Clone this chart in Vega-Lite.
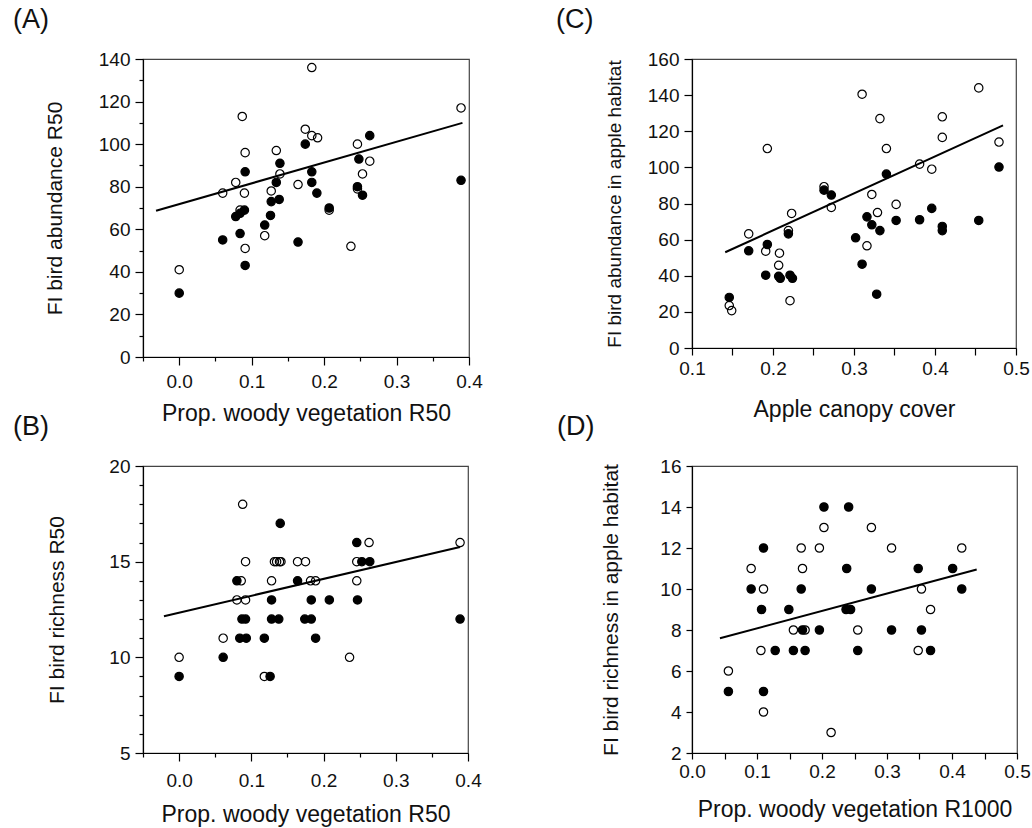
{
  "$schema": "https://vega.github.io/schema/vega-lite/v6.json",
  "background": "white",
  "padding": {"left": 12, "top": 5, "right": 0, "bottom": 0},
  "config": {
    "font": "Liberation Sans",
    "view": {"stroke": "#444444", "strokeWidth": 1.2},
    "axis": {
      "grid": false,
      "domainColor": "#000000",
      "domainWidth": 1.2,
      "tickColor": "#000000",
      "tickWidth": 1.2,
      "labelFont": "Liberation Sans",
      "titleFont": "Liberation Sans",
      "labelFontSize": 19,
      "titleFontSize": 21,
      "labelColor": "#111111",
      "titleColor": "#111111",
      "titleFontWeight": "normal",
      "labelOverlap": false,
      "labelFlush": false
    },
    "axisX": {"titleFontSize": 23},
    "title": {"font": "Liberation Sans", "fontSize": 27, "fontWeight": "normal", "color": "#111111", "anchor": "start", "frame": "group", "baseline": "bottom", "offset": 16}
  },
  "datasets": {
    "A": [
      {"x": 0, "y": 41, "type": "open"}, {"x": 0.183, "y": 136, "type": "open"}, {"x": 0.389, "y": 117, "type": "open"}, {"x": 0.087, "y": 113, "type": "open"},
      {"x": 0.174, "y": 107, "type": "open"}, {"x": 0.183, "y": 104, "type": "open"}, {"x": 0.191, "y": 103, "type": "open"}, {"x": 0.246, "y": 100, "type": "open"},
      {"x": 0.091, "y": 96, "type": "open"}, {"x": 0.134, "y": 97, "type": "open"}, {"x": 0.263, "y": 92, "type": "open"}, {"x": 0.253, "y": 86, "type": "open"},
      {"x": 0.139, "y": 86, "type": "open"}, {"x": 0.078, "y": 82, "type": "open"}, {"x": 0.06, "y": 77, "type": "open"}, {"x": 0.09, "y": 77, "type": "open"},
      {"x": 0.127, "y": 78, "type": "open"}, {"x": 0.164, "y": 81, "type": "open"}, {"x": 0.084, "y": 69, "type": "open"}, {"x": 0.207, "y": 69, "type": "open"},
      {"x": 0.246, "y": 79, "type": "open"}, {"x": 0.118, "y": 57, "type": "open"}, {"x": 0.091, "y": 51, "type": "open"}, {"x": 0.237, "y": 52, "type": "open"},
      {"x": 0, "y": 30, "type": "filled"}, {"x": 0.174, "y": 100, "type": "filled"}, {"x": 0.263, "y": 104, "type": "filled"}, {"x": 0.248, "y": 93, "type": "filled"},
      {"x": 0.091, "y": 87, "type": "filled"}, {"x": 0.139, "y": 91, "type": "filled"}, {"x": 0.183, "y": 87, "type": "filled"}, {"x": 0.134, "y": 82, "type": "filled"},
      {"x": 0.183, "y": 82, "type": "filled"}, {"x": 0.19, "y": 77, "type": "filled"}, {"x": 0.246, "y": 80, "type": "filled"}, {"x": 0.253, "y": 76, "type": "filled"},
      {"x": 0.389, "y": 83, "type": "filled"}, {"x": 0.127, "y": 73, "type": "filled"}, {"x": 0.138, "y": 74, "type": "filled"}, {"x": 0.09, "y": 69, "type": "filled"},
      {"x": 0.078, "y": 66, "type": "filled"}, {"x": 0.084, "y": 67.5, "type": "filled"}, {"x": 0.126, "y": 66.5, "type": "filled"}, {"x": 0.118, "y": 62, "type": "filled"},
      {"x": 0.207, "y": 70, "type": "filled"}, {"x": 0.06, "y": 55, "type": "filled"}, {"x": 0.084, "y": 58, "type": "filled"}, {"x": 0.164, "y": 54, "type": "filled"},
      {"x": 0.091, "y": 43, "type": "filled"}
    ],
    "A_line": [{"x": -0.032, "y": 68.7}, {"x": 0.391, "y": 110}],
    "B": [
      {"x": 0.088, "y": 18, "type": "open"}, {"x": 0.263, "y": 16, "type": "open"}, {"x": 0.389, "y": 16, "type": "open"}, {"x": 0.092, "y": 15, "type": "open"},
      {"x": 0.132, "y": 15, "type": "open"}, {"x": 0.135, "y": 15, "type": "open"}, {"x": 0.139, "y": 15, "type": "open"}, {"x": 0.141, "y": 15, "type": "open"},
      {"x": 0.164, "y": 15, "type": "open"}, {"x": 0.175, "y": 15, "type": "open"}, {"x": 0.246, "y": 15, "type": "open"}, {"x": 0.086, "y": 14, "type": "open"},
      {"x": 0.128, "y": 14, "type": "open"}, {"x": 0.182, "y": 14, "type": "open"}, {"x": 0.189, "y": 14, "type": "open"}, {"x": 0.246, "y": 14, "type": "open"},
      {"x": 0.08, "y": 13, "type": "open"}, {"x": 0.092, "y": 13, "type": "open"}, {"x": 0.061, "y": 11, "type": "open"}, {"x": 0, "y": 10, "type": "open"},
      {"x": 0.236, "y": 10, "type": "open"}, {"x": 0.118, "y": 9, "type": "open"},
      {"x": 0.14, "y": 17, "type": "filled"}, {"x": 0.246, "y": 16, "type": "filled"}, {"x": 0.253, "y": 15, "type": "filled"}, {"x": 0.264, "y": 15, "type": "filled"},
      {"x": 0.08, "y": 14, "type": "filled"}, {"x": 0.164, "y": 14, "type": "filled"}, {"x": 0.128, "y": 13, "type": "filled"}, {"x": 0.183, "y": 13, "type": "filled"},
      {"x": 0.208, "y": 13, "type": "filled"}, {"x": 0.247, "y": 13, "type": "filled"}, {"x": 0.087, "y": 12, "type": "filled"}, {"x": 0.092, "y": 12, "type": "filled"},
      {"x": 0.128, "y": 12, "type": "filled"}, {"x": 0.138, "y": 12, "type": "filled"}, {"x": 0.174, "y": 12, "type": "filled"}, {"x": 0.183, "y": 12, "type": "filled"},
      {"x": 0.389, "y": 12, "type": "filled"}, {"x": 0.084, "y": 11, "type": "filled"}, {"x": 0.093, "y": 11, "type": "filled"}, {"x": 0.118, "y": 11, "type": "filled"},
      {"x": 0.189, "y": 11, "type": "filled"}, {"x": 0.061, "y": 10, "type": "filled"}, {"x": 0, "y": 9, "type": "filled"}, {"x": 0.126, "y": 9, "type": "filled"}
    ],
    "B_line": [{"x": -0.021, "y": 12.15}, {"x": 0.389, "y": 15.77}],
    "C": [
      {"x": 0.31, "y": 140.5, "type": "open"}, {"x": 0.454, "y": 144, "type": "open"}, {"x": 0.332, "y": 127, "type": "open"}, {"x": 0.409, "y": 128, "type": "open"},
      {"x": 0.409, "y": 116.6, "type": "open"}, {"x": 0.193, "y": 110.4, "type": "open"}, {"x": 0.34, "y": 110.4, "type": "open"}, {"x": 0.479, "y": 114, "type": "open"},
      {"x": 0.381, "y": 101.8, "type": "open"}, {"x": 0.396, "y": 99, "type": "open"}, {"x": 0.263, "y": 89.3, "type": "open"}, {"x": 0.322, "y": 85, "type": "open"},
      {"x": 0.272, "y": 77.8, "type": "open"}, {"x": 0.352, "y": 79.5, "type": "open"}, {"x": 0.329, "y": 75, "type": "open"}, {"x": 0.223, "y": 74.5, "type": "open"},
      {"x": 0.17, "y": 63.2, "type": "open"}, {"x": 0.219, "y": 65, "type": "open"}, {"x": 0.191, "y": 53.6, "type": "open"}, {"x": 0.208, "y": 52.5, "type": "open"},
      {"x": 0.316, "y": 56.6, "type": "open"}, {"x": 0.207, "y": 45.8, "type": "open"}, {"x": 0.221, "y": 26.2, "type": "open"}, {"x": 0.146, "y": 23.5, "type": "open"},
      {"x": 0.149, "y": 20.7, "type": "open"},
      {"x": 0.479, "y": 100.2, "type": "filled"}, {"x": 0.34, "y": 96.3, "type": "filled"}, {"x": 0.263, "y": 87.4, "type": "filled"}, {"x": 0.272, "y": 84.7, "type": "filled"},
      {"x": 0.396, "y": 77.3, "type": "filled"}, {"x": 0.316, "y": 72.6, "type": "filled"}, {"x": 0.352, "y": 70.6, "type": "filled"}, {"x": 0.381, "y": 71, "type": "filled"},
      {"x": 0.454, "y": 70.6, "type": "filled"}, {"x": 0.322, "y": 68.2, "type": "filled"}, {"x": 0.409, "y": 67.3, "type": "filled"}, {"x": 0.409, "y": 65, "type": "filled"},
      {"x": 0.332, "y": 65, "type": "filled"}, {"x": 0.219, "y": 63.2, "type": "filled"}, {"x": 0.17, "y": 53.8, "type": "filled"}, {"x": 0.193, "y": 57.3, "type": "filled"},
      {"x": 0.302, "y": 61, "type": "filled"}, {"x": 0.191, "y": 40.3, "type": "filled"}, {"x": 0.207, "y": 39.7, "type": "filled"}, {"x": 0.209, "y": 38.6, "type": "filled"},
      {"x": 0.221, "y": 40.3, "type": "filled"}, {"x": 0.224, "y": 38.6, "type": "filled"}, {"x": 0.31, "y": 46.4, "type": "filled"}, {"x": 0.328, "y": 29.8, "type": "filled"},
      {"x": 0.146, "y": 28, "type": "filled"}
    ],
    "C_line": [{"x": 0.141, "y": 53}, {"x": 0.484, "y": 123.3}],
    "D": [
      {"x": 0.203, "y": 13, "type": "open"}, {"x": 0.276, "y": 13, "type": "open"}, {"x": 0.168, "y": 12, "type": "open"}, {"x": 0.196, "y": 12, "type": "open"},
      {"x": 0.307, "y": 12, "type": "open"}, {"x": 0.415, "y": 12, "type": "open"}, {"x": 0.091, "y": 11, "type": "open"}, {"x": 0.17, "y": 11, "type": "open"},
      {"x": 0.11, "y": 10, "type": "open"}, {"x": 0.353, "y": 10, "type": "open"}, {"x": 0.367, "y": 9, "type": "open"}, {"x": 0.156, "y": 8, "type": "open"},
      {"x": 0.174, "y": 8, "type": "open"}, {"x": 0.255, "y": 8, "type": "open"}, {"x": 0.106, "y": 7, "type": "open"}, {"x": 0.348, "y": 7, "type": "open"},
      {"x": 0.056, "y": 6, "type": "open"}, {"x": 0.11, "y": 4, "type": "open"}, {"x": 0.214, "y": 3, "type": "open"},
      {"x": 0.203, "y": 14, "type": "filled"}, {"x": 0.241, "y": 14, "type": "filled"}, {"x": 0.11, "y": 12, "type": "filled"}, {"x": 0.238, "y": 11, "type": "filled"},
      {"x": 0.348, "y": 11, "type": "filled"}, {"x": 0.401, "y": 11, "type": "filled"}, {"x": 0.091, "y": 10, "type": "filled"}, {"x": 0.168, "y": 10, "type": "filled"},
      {"x": 0.276, "y": 10, "type": "filled"}, {"x": 0.415, "y": 10, "type": "filled"}, {"x": 0.107, "y": 9, "type": "filled"}, {"x": 0.149, "y": 9, "type": "filled"},
      {"x": 0.237, "y": 9, "type": "filled"}, {"x": 0.244, "y": 9, "type": "filled"}, {"x": 0.17, "y": 8, "type": "filled"}, {"x": 0.196, "y": 8, "type": "filled"},
      {"x": 0.307, "y": 8, "type": "filled"}, {"x": 0.353, "y": 8, "type": "filled"}, {"x": 0.128, "y": 7, "type": "filled"}, {"x": 0.156, "y": 7, "type": "filled"},
      {"x": 0.174, "y": 7, "type": "filled"}, {"x": 0.255, "y": 7, "type": "filled"}, {"x": 0.367, "y": 7, "type": "filled"}, {"x": 0.056, "y": 5, "type": "filled"},
      {"x": 0.11, "y": 5, "type": "filled"}
    ],
    "D_line": [{"x": 0.043, "y": 7.6}, {"x": 0.438, "y": 10.95}]
  },
  "columns": 2,
  "bounds": "flush",
  "spacing": {"row": 109, "column": 223},
  "concat": [
    {
      "title": {"text": "(A)", "dx": -130},
      "width": 326, "height": 298,
      "encoding": {
        "x": {"field": "x", "type": "quantitative", "scale": {"domain": [-0.05, 0.4], "nice": false, "zero": false},
          "axis": {"title": "Prop. woody vegetation R50", "values": [-0.05, 0, 0.05, 0.1, 0.15, 0.2, 0.25, 0.3, 0.35, 0.4],
            "labelExpr": "abs(round(datum.value*20))%2==1 ? '' : format(datum.value,'.1f')",
            "tickSize": {"condition": {"test": "abs(round(datum.value*20))%2==1", "value": 4}, "value": 8},
            "labelPadding": 7, "titlePadding": 11}},
        "y": {"field": "y", "type": "quantitative", "scale": {"domain": [0, 140], "nice": false},
          "axis": {"title": "FI bird abundance R50", "values": [0, 10, 20, 30, 40, 50, 60, 70, 80, 90, 100, 110, 120, 130, 140],
            "labelExpr": "datum.value%20==0 ? format(datum.value,'d') : ''",
            "tickSize": {"condition": {"test": "datum.value%20!=0", "value": 4}, "value": 8},
            "labelPadding": 5, "titlePadding": 33}}
      },
      "layer": [
        {"data": {"name": "A"}, "mark": {"type": "point", "shape": "circle", "filled": true, "size": 70, "stroke": "#000000", "strokeWidth": 1.2, "opacity": 1},
          "encoding": {"fill": {"field": "type", "type": "nominal", "scale": {"domain": ["filled", "open"], "range": ["#000000", "transparent"]}, "legend": null}}},
        {"data": {"name": "A_line"}, "mark": {"type": "line", "color": "#000000", "strokeWidth": 2}, "encoding": {}}
      ]
    },
    {
      "title": {"text": "(C)", "dx": -136},
      "width": 324, "height": 289,
      "encoding": {
        "x": {"field": "x", "type": "quantitative", "scale": {"domain": [0.1, 0.5], "nice": false, "zero": false},
          "axis": {"title": "Apple canopy cover", "values": [0.1, 0.15, 0.2, 0.25, 0.3, 0.35, 0.4, 0.45, 0.5],
            "labelExpr": "abs(round(datum.value*20))%2==1 ? '' : format(datum.value,'.1f')",
            "tickSize": 7, "labelPadding": 4, "titlePadding": 20}},
        "y": {"field": "y", "type": "quantitative", "scale": {"domain": [0, 160], "nice": false},
          "axis": {"title": "FI bird abundance in apple habitat", "titleFontSize": 19, "values": [0, 20, 40, 60, 80, 100, 120, 140, 160],
            "tickSize": 8, "labelPadding": 5, "titlePadding": 23}}
      },
      "layer": [
        {"data": {"name": "C"}, "mark": {"type": "point", "shape": "circle", "filled": true, "size": 70, "stroke": "#000000", "strokeWidth": 1.2, "opacity": 1},
          "encoding": {"fill": {"field": "type", "type": "nominal", "scale": {"domain": ["filled", "open"], "range": ["#000000", "transparent"]}, "legend": null}}},
        {"data": {"name": "C_line"}, "mark": {"type": "line", "color": "#000000", "strokeWidth": 2}, "encoding": {}}
      ]
    },
    {
      "title": {"text": "(B)", "dx": -130},
      "width": 325, "height": 287,
      "encoding": {
        "x": {"field": "x", "type": "quantitative", "scale": {"domain": [-0.05, 0.4], "nice": false, "zero": false},
          "axis": {"title": "Prop. woody vegetation R50", "values": [-0.05, 0, 0.05, 0.1, 0.15, 0.2, 0.25, 0.3, 0.35, 0.4],
            "labelExpr": "abs(round(datum.value*20))%2==1 ? '' : format(datum.value,'.1f')",
            "tickSize": {"condition": {"test": "abs(round(datum.value*20))%2==1", "value": 4}, "value": 8},
            "labelPadding": 10, "titlePadding": 13}},
        "y": {"field": "y", "type": "quantitative", "scale": {"domain": [5, 20], "nice": false, "zero": false},
          "axis": {"title": "FI bird richness R50", "values": [5, 6, 7, 8, 9, 10, 11, 12, 13, 14, 15, 16, 17, 18, 19, 20],
            "labelExpr": "datum.value%5==0 ? format(datum.value,'d') : ''",
            "tickSize": {"condition": {"test": "datum.value%5!=0", "value": 4}, "value": 8},
            "labelPadding": 5, "titlePadding": 41}}
      },
      "layer": [
        {"data": {"name": "B"}, "mark": {"type": "point", "shape": "circle", "filled": true, "size": 70, "stroke": "#000000", "strokeWidth": 1.2, "opacity": 1},
          "encoding": {"fill": {"field": "type", "type": "nominal", "scale": {"domain": ["filled", "open"], "range": ["#000000", "transparent"]}, "legend": null}}},
        {"data": {"name": "B_line"}, "mark": {"type": "line", "color": "#000000", "strokeWidth": 2}, "encoding": {}}
      ]
    },
    {
      "title": {"text": "(D)", "dx": -135},
      "width": 325, "height": 287,
      "encoding": {
        "x": {"field": "x", "type": "quantitative", "scale": {"domain": [0, 0.5], "nice": false, "zero": false},
          "axis": {"title": "Prop. woody vegetation R1000", "values": [0, 0.05, 0.1, 0.15, 0.2, 0.25, 0.3, 0.35, 0.4, 0.45, 0.5],
            "labelExpr": "abs(round(datum.value*20))%2==1 ? '' : format(datum.value,'.1f')",
            "tickSize": 6, "labelPadding": 3, "titlePadding": 17}},
        "y": {"field": "y", "type": "quantitative", "scale": {"domain": [2, 16], "nice": false, "zero": false},
          "axis": {"title": "FI bird richness in apple habitat", "values": [2, 4, 6, 8, 10, 12, 14, 16],
            "tickSize": 6, "labelPadding": 5, "titlePadding": 38}}
      },
      "layer": [
        {"data": {"name": "D"}, "mark": {"type": "point", "shape": "circle", "filled": true, "size": 70, "stroke": "#000000", "strokeWidth": 1.2, "opacity": 1},
          "encoding": {"fill": {"field": "type", "type": "nominal", "scale": {"domain": ["filled", "open"], "range": ["#000000", "transparent"]}, "legend": null}}},
        {"data": {"name": "D_line"}, "mark": {"type": "line", "color": "#000000", "strokeWidth": 2}, "encoding": {}}
      ]
    }
  ]
}
